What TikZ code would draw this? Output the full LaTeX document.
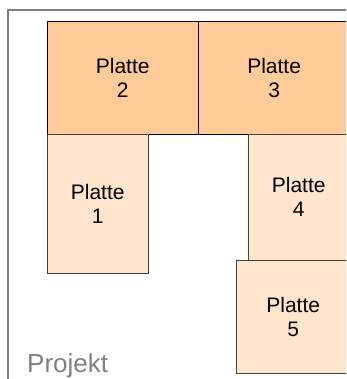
\documentclass[tikz,border=0pt]{standalone}
\usepackage{fontspec}
\setmainfont{Liberation Sans}
\definecolor{plattedunkel}{HTML}{FFCC99}
\definecolor{plattehell}{HTML}{FFE5CC}
\definecolor{rahmengrau}{HTML}{808080}
\begin{document}
\begin{tikzpicture}[x=1pt, y=-1pt, line join=miter,
		platte/.style={draw, anchor=north west, inner sep=0pt, align=center,
			font=\fontsize{21}{24}\selectfont},
		oben/.style={platte, fill=plattedunkel, draw=black},
		unten/.style={platte, fill=plattehell, draw=black!75}]
	\useasboundingbox (0,0) rectangle (346,379);
	\clip (0,0) rectangle (346,379);
	% Rahmen des Projekts
	\draw[rahmengrau, line width=1.3pt] (8,390) -- (8,10) -- (360,10);
	\node[anchor=base west, inner sep=0pt, text=rahmengrau,
		font=\fontsize{26}{30}\selectfont] (projekt) at (27,372) {Projekt};
	% Platten
	\node[oben, minimum width=151, minimum height=113] (p2) at (47,21) {Platte\\2};
	\node[oben, minimum width=151, minimum height=113] (p3) at (p2.north east) {Platte\\3};
	\node[unten, minimum width=101, minimum height=139] (p1) at (p2.south west) {Platte\\1};
	\node[unten, minimum width=101, minimum height=126] (p4) at (248,134) {Platte\\4};
	\node[unten, minimum width=114, minimum height=113] (p5) at (236,260) {Platte\\5};
\end{tikzpicture}
\end{document}
